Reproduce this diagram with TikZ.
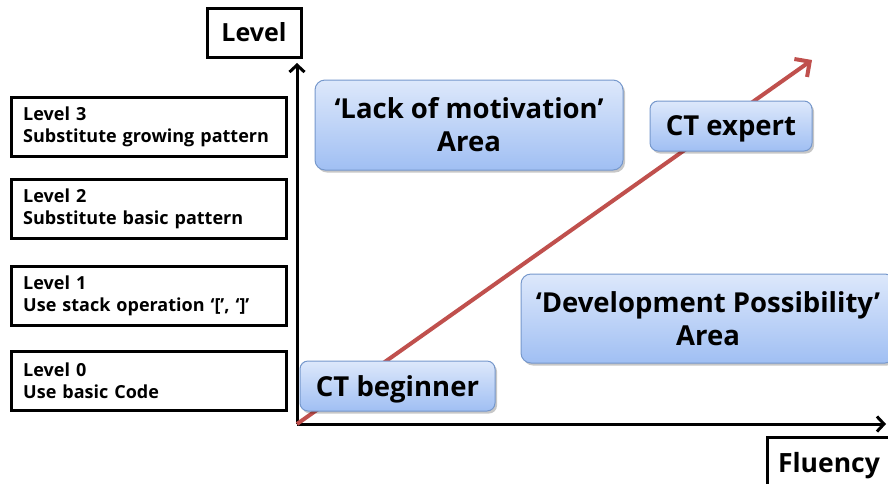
\documentclass[tikz,border=0pt]{standalone}
\usepackage{fontspec}
\setmainfont{Open Sans}
\usetikzlibrary{arrows.meta,shadows}
\definecolor{redarrow}{RGB}{192,80,77}
\definecolor{boxtop}{RGB}{221,232,251}
\definecolor{boxbot}{RGB}{160,191,243}
\definecolor{boxedge}{RGB}{118,152,204}
\begin{document}
\begin{tikzpicture}[x=1pt,y=-1pt,
  levelbox/.style={draw, line width=2.5pt, rectangle, minimum width=275pt, minimum height=59pt,
    text width=251pt, inner xsep=12pt, align=left, anchor=north west,
    font=\bfseries\fontsize{18}{22.5}\selectfont},
  axislabel/.style={draw, line width=3pt, rectangle, inner sep=0pt},
  bluebox/.style={draw=boxedge, line width=1pt, rounded corners=10pt, top color=boxtop, bottom color=boxbot,
    drop shadow={shadow xshift=2pt, shadow yshift=-2.5pt, fill=black, opacity=0.22},
    align=center, inner sep=0pt, font=\bfseries\fontsize{27.5}{33}\selectfont},
  axis/.style={line width=3pt, -{Straight Barb[length=7pt,width=15pt,line width=3pt]}},
  redarr/.style={line width=4pt, draw=redarrow, -{Straight Barb[length=11pt,width=22pt,line width=4pt]}}
]
\clip (0,0) rectangle (888,483);
\fill[white] (0,0) rectangle (888,483);

% level boxes
\node[levelbox] (l3) at (10,96) {Level 3\\Substitute growing pattern};
\node[levelbox] (l2) at (10,178) {Level 2\\Substitute basic pattern};
\node[levelbox] (l1) at (10,265) {Level 1\\Use stack operation ‘[’, ‘]’};
\node[levelbox] (l0) at (10,350) {Level 0\\Use basic Code};

% axes
\coordinate (O) at (297,424);
\coordinate (ytop) at (297,63);
\coordinate (xend) at (886,424);
\coordinate (rtip) at (812,60);
\draw[axis] (O) -- (ytop);
\draw[axis] (O) -- (xend);
\draw[redarr] (O) -- (rtip);

% axis labels
\node[axislabel, minimum width=94pt, minimum height=49pt, font=\bfseries\fontsize{25}{28}\selectfont] (lvl) at (254,32.5) {Level};
\node[axislabel, minimum width=124pt, minimum height=50pt, text depth=0pt, font=\bfseries\fontsize{26.5}{28}\selectfont] (flu) at (829,462) {Fluency};

% blue boxes
\node[bluebox, minimum width=308pt, minimum height=90pt] (lack) at (469,125) {‘Lack of motivation’\\Area};
\node[bluebox, rounded corners=8pt, text depth=0pt, minimum width=162pt, minimum height=50pt] (expert) at (731,126) {CT expert};
\node[bluebox, minimum width=374pt, minimum height=89pt] (devel) at (708,318.5) {‘Development Possibility’\\Area};
\node[bluebox, rounded corners=8pt, text depth=0pt, minimum width=195pt, minimum height=50pt] (begin) at (397.5,386) {CT beginner};
\end{tikzpicture}
\end{document}
